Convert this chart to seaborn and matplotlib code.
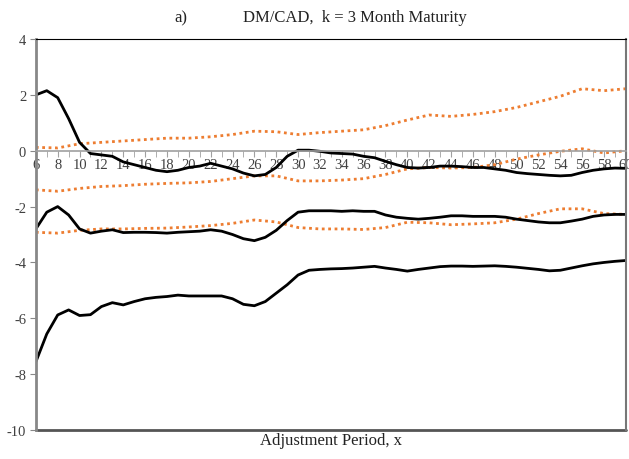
import numpy as np
import pandas as pd
import matplotlib
matplotlib.use('Agg')
import matplotlib.pyplot as plt
import seaborn as sns
from matplotlib.ticker import MultipleLocator

# adjustment period
x = list(range(6, 61))
x_even = list(range(6, 61, 2))

# estimates (black solid)
est_upper = [2.0, 2.15, 1.9, 1.15, 0.3, -0.1, -0.15, -0.2, -0.4, -0.5,
             -0.6, -0.7, -0.75, -0.7, -0.6, -0.55, -0.45, -0.55, -0.65, -0.8,
             -0.9, -0.85, -0.6, -0.2, 0.02, 0.02, -0.02, -0.08, -0.1, -0.12,
             -0.2, -0.25, -0.38, -0.5, -0.6, -0.62, -0.6, -0.55, -0.55, -0.57,
             -0.6, -0.6, -0.65, -0.7, -0.78, -0.82, -0.85, -0.88, -0.9, -0.88,
             -0.78, -0.7, -0.65, -0.62, -0.63]
est_mid = [-2.8, -2.2, -2.0, -2.3, -2.8, -2.95, -2.88, -2.83, -2.93, -2.92,
           -2.92, -2.93, -2.95, -2.92, -2.9, -2.88, -2.83, -2.88, -3.0, -3.15,
           -3.22, -3.1, -2.85, -2.5, -2.2, -2.15, -2.15, -2.15, -2.17, -2.15,
           -2.17, -2.17, -2.3, -2.38, -2.42, -2.45, -2.42, -2.38, -2.33, -2.33,
           -2.35, -2.35, -2.35, -2.38, -2.45, -2.5, -2.55, -2.58, -2.58, -2.52,
           -2.45, -2.35, -2.3, -2.28, -2.28]
est_lower = [-7.56, -6.56, -5.88, -5.7, -5.9, -5.87, -5.58, -5.44, -5.52, -5.4,
             -5.3, -5.25, -5.22, -5.17, -5.2, -5.2, -5.2, -5.2, -5.3, -5.5,
             -5.55, -5.4, -5.1, -4.8, -4.45, -4.28, -4.25, -4.23, -4.22, -4.2,
             -4.17, -4.14, -4.2, -4.25, -4.31, -4.25, -4.2, -4.15, -4.13, -4.13,
             -4.14, -4.13, -4.12, -4.14, -4.17, -4.21, -4.25, -4.3, -4.28, -4.2,
             -4.12, -4.05, -4.0, -3.96, -3.93]

# confidence bands (orange dotted), every second period
band_top = [0.12, 0.1, 0.25, 0.3, 0.35, 0.4, 0.45, 0.45, 0.5, 0.58,
            0.7, 0.68, 0.58, 0.65, 0.7, 0.75, 0.9, 1.1, 1.28, 1.23,
            1.3, 1.4, 1.55, 1.75, 1.95, 2.22, 2.15, 2.22]
band_mid = [-1.4, -1.45, -1.35, -1.28, -1.25, -1.2, -1.17, -1.15, -1.1, -1.0,
            -0.9, -0.9, -1.08, -1.08, -1.05, -1.0, -0.85, -0.65, -0.6, -0.62,
            -0.6, -0.5, -0.3, -0.15, -0.02, 0.07, -0.08, 0.0]
band_low = [-2.92, -2.95, -2.85, -2.8, -2.8, -2.78, -2.77, -2.73, -2.68, -2.6,
            -2.48, -2.55, -2.75, -2.8, -2.8, -2.82, -2.75, -2.56, -2.58, -2.65,
            -2.62, -2.58, -2.45, -2.25, -2.08, -2.08, -2.25, -2.28]

sns.set_style('white')
plt.rcParams['font.family'] = ['Liberation Serif', 'DejaVu Serif']
plt.rcParams['axes.unicode_minus'] = False

fig = plt.figure(figsize=(6.29, 4.6), dpi=100)
ax = fig.add_axes([0.057, 0.063, 0.938, 0.85])

orange = '#ED7D31'
for s in [band_top, band_mid, band_low]:
    sns.lineplot(x=x_even, y=s, ax=ax, color=orange, lw=2, linestyle=(0, (1, 1.3)))
for s in [est_upper, est_mid, est_lower]:
    sns.lineplot(x=x, y=s, ax=ax, color='black', lw=2)

ax.set_xlim(6, 60)
ax.set_ylim(-10, 4)
ax.yaxis.set_major_locator(MultipleLocator(2))
ax.xaxis.set_major_locator(MultipleLocator(2))
ax.xaxis.set_minor_locator(MultipleLocator(1))

# x axis crosses at zero
ax.spines['bottom'].set_position(('data', 0))
ax.spines['bottom'].set_color('#a0a0a0')
ax.spines['bottom'].set_linewidth(1.2)
ax.spines['left'].set_color('#888888')
ax.spines['left'].set_linewidth(2)
ax.spines['top'].set_color('black')
ax.spines['right'].set_color('#777777')
ax.spines['right'].set_linewidth(1.5)
ax.axhline(-10, color='#555555', lw=2, clip_on=False)

ax.tick_params(axis='x', which='both', direction='out', length=4, color='#a0a0a0',
               labelsize=10.5, labelcolor='#404040', pad=1, bottom=True)
ax.tick_params(axis='y', direction='out', length=4, color='#888888',
               labelsize=10.5, labelcolor='#404040', pad=3, left=True)
ax.grid(False)

fig.text(181 / 629, 1 - 18 / 460, 'a)', ha='center', va='center', fontsize=12, color='#222222')
fig.text(243 / 629, 1 - 18 / 460, 'DM/CAD,  k = 3 Month Maturity', ha='left', va='center',
         fontsize=12, color='#222222')
fig.text(331 / 629, 1 - 441 / 460, 'Adjustment Period, x', ha='center', va='center',
         fontsize=12, color='#222222')

fig.savefig('out.png', dpi=100)
